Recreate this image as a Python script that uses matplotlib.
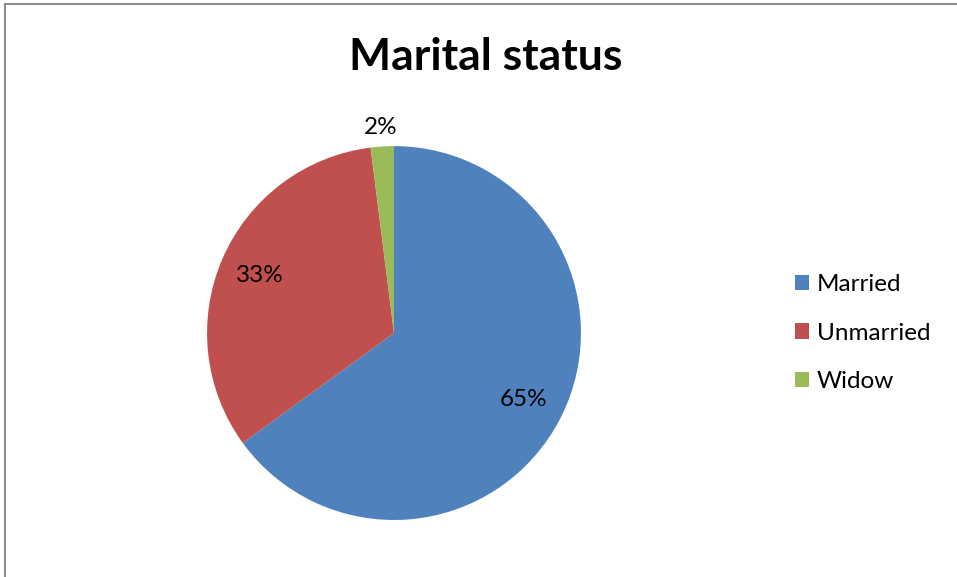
import numpy as np
import matplotlib.pyplot as plt
from matplotlib.patches import Rectangle

categorias = ['Married', 'Unmarried', 'Widow']
porcentajes = [65, 33, 2]
colores = ['#4F81BD', '#C0504D', '#9BBB59']

plt.rcParams['font.family'] = ['Lato', 'DejaVu Sans']

fig = plt.figure(figsize=(9.57, 5.77), dpi=100)

# marco gris (solo se ve arriba y a la izquierda)
fig.patches.append(Rectangle((5 / 957, -0.1), 1.2, 1 - 4 / 577 + 0.1, transform=fig.transFigure,
                             fill=False, edgecolor='#8c8c8c', linewidth=1.5))

ax = fig.add_axes([0.2163, 0.0988, 0.3908, 0.648])
wedges, textos, pcts = ax.pie(porcentajes, colors=colores, startangle=90, counterclock=False,
                              autopct='%1.0f%%', pctdistance=0.78, radius=1,
                              textprops={'fontsize': 17.5})
ax.set_xlim(-1, 1)
ax.set_ylim(-1, 1)
ax.set_aspect('equal')

# la etiqueta pequeña va fuera del sector
w = wedges[2]
ang = np.deg2rad((w.theta1 + w.theta2) / 2)
pcts[2].set_position((np.cos(ang) * 1.10, np.sin(ang) * 1.10))

fig.text(486 / 957, 1 - 57 / 577, 'Marital status', fontsize=32, fontweight='bold',
         ha='center', va='center')

fig.legend(wedges, categorias, loc='center left', bbox_to_anchor=(773 / 957, 1 - 333 / 577),
           frameon=False, fontsize=17.5, handlelength=0.6, handleheight=0.6,
           handletextpad=0.3, labelspacing=1.13)

fig.savefig('out.png', dpi=100)
